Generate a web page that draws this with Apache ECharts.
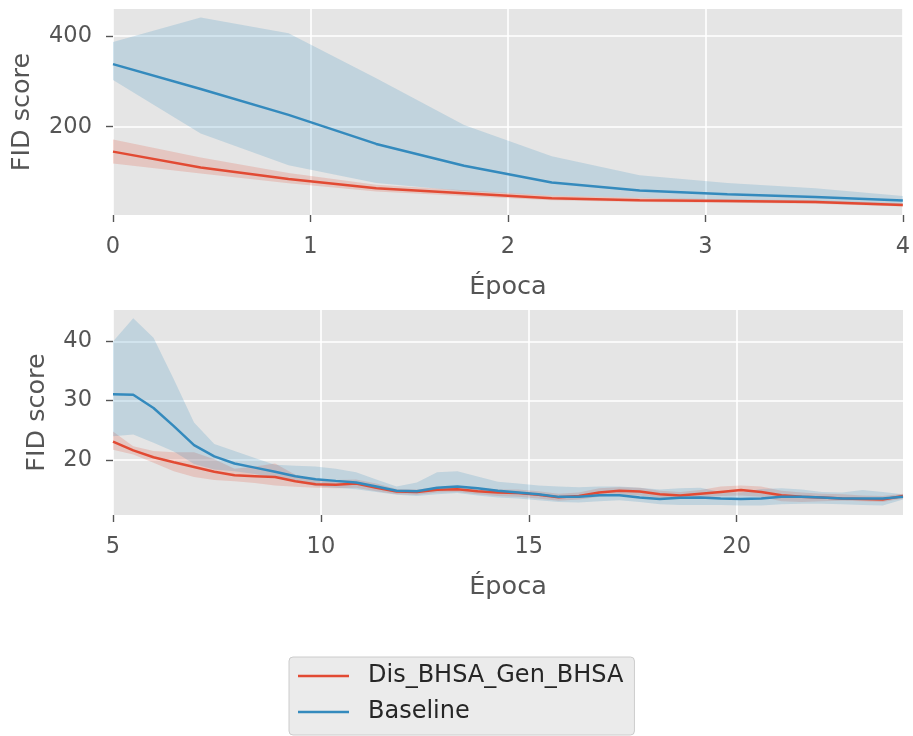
<!DOCTYPE html>
<html>
<head>
<meta charset="utf-8">
<script src="https://cdn.jsdelivr.net/npm/echarts@6/dist/echarts.min.js"></script>
<style>
  html, body { margin: 0; padding: 0; background: #ffffff; }
  #chart { width: 913px; height: 736px; }
</style>
</head>
<body>
<div id="chart"></div>
<script>
// Series names
const seriesNames = ['Dis_BHSA_Gen_BHSA', 'Baseline'];

// Upper panel: epochs 0..4
const topEpochs = [0, 0.444, 0.889, 1.333, 1.778, 2.222, 2.667, 3.111, 3.556, 4];
const redTopMean  = [145, 110, 84.5, 64, 53, 42, 38, 36, 34, 27];
const redTopUpper = [172, 132, 98, 72, 60, 48, 43, 40, 38, 31];
const redTopLower = [119, 97, 75, 57, 47, 38, 34, 32, 30, 24];
const blueTopMean  = [338, 283, 226, 162, 114, 77, 59, 51, 45, 37];
const blueTopUpper = [387, 441, 406, 307, 204, 135, 93, 76, 64, 47];
const blueTopLower = [303, 185, 115, 76, 58, 48, 43, 38, 34, 29];

// Lower panel: epochs 5..24
const bottomEpochs = [5.000, 5.487, 5.974, 6.462, 6.949, 7.436, 7.923, 8.410, 8.897, 9.385,
  9.872, 10.359, 10.846, 11.333, 11.821, 12.308, 12.795, 13.282, 13.769, 14.256,
  14.744, 15.231, 15.718, 16.205, 16.692, 17.179, 17.667, 18.154, 18.641, 19.128,
  19.615, 20.103, 20.590, 21.077, 21.564, 22.051, 22.538, 23.026, 23.513, 24.000];
const redBottomMean = [23.1, 21.6, 20.45, 19.6, 18.8, 18.0, 17.4, 17.25, 17.1, 16.4,
  15.9, 15.8, 16.0, 15.3, 14.66, 14.6, 14.95, 15.05, 14.7, 14.5,
  14.4, 14.1, 13.7, 13.9, 14.5, 14.8, 14.66, 14.2, 14.0, 14.3,
  14.6, 14.9, 14.6, 14.04, 13.8, 13.65, 13.5, 13.4, 13.3, 13.9];
const redBottomUpper = [24.8, 22.3, 21.5, 21.3, 21.3, 20.1, 18.5, 18.9, 19.4, 17.5,
  16.6, 16.6, 16.7, 16.0, 15.1, 15.0, 15.4, 15.6, 15.3, 15.0,
  15.0, 14.7, 14.3, 14.5, 15.2, 15.4, 15.3, 14.8, 14.6, 14.9,
  15.5, 15.7, 15.5, 14.8, 14.5, 14.3, 14.2, 14.0, 13.9, 14.3];
const redBottomLower = [21.7, 20.9, 19.5, 18.1, 17.1, 16.6, 16.4, 16.1, 15.7, 15.45,
  15.3, 15.2, 15.3, 14.7, 14.2, 14.1, 14.5, 14.6, 14.2, 13.9,
  13.8, 13.5, 13.1, 13.3, 13.8, 14.1, 14.0, 13.6, 13.4, 13.6,
  13.9, 14.0, 13.8, 13.0, 12.9, 13.0, 13.1, 13.0, 12.9, 13.5];
const blueBottomMean = [31.07, 31.0, 28.76, 25.7, 22.5, 20.6, 19.4, 18.7, 18.0, 17.25,
  16.74, 16.46, 16.2, 15.5, 14.78, 14.7, 15.3, 15.5, 15.2, 14.8,
  14.5, 14.2, 13.76, 13.76, 14.04, 14.04, 13.65, 13.4, 13.6, 13.65,
  13.5, 13.4, 13.5, 13.76, 13.76, 13.65, 13.5, 13.5, 13.5, 13.8];
const blueBottomUpper = [40.0, 43.9, 40.6, 33.6, 26.3, 22.7, 21.5, 20.3, 19.2, 19.0,
  18.9, 18.5, 17.9, 16.7, 15.5, 16.2, 17.9, 18.1, 17.2, 16.3,
  16.0, 15.7, 15.5, 15.4, 15.5, 15.5, 15.3, 15.0, 15.2, 15.3,
  14.6, 14.5, 15.1, 15.2, 15.0, 14.6, 14.5, 14.9, 14.6, 14.2];
const blueBottomLower = [24.0, 24.3, 22.9, 21.4, 19.3, 18.4, 18.1, 17.6, 17.0, 16.3,
  15.6, 15.3, 15.05, 14.6, 14.1, 13.9, 14.2, 14.4, 14.0, 13.65,
  13.5, 13.2, 12.9, 12.8, 13.0, 13.2, 12.9, 12.5, 12.4, 12.4,
  12.4, 12.3, 12.3, 12.5, 12.6, 12.6, 12.5, 12.4, 12.3, 13.3];

// Axis tick values
const topXTicks = [0, 1, 2, 3, 4];
const topYTicks = [200, 400];
const bottomXTicks = [5, 10, 15, 20];
const bottomYTicks = [20, 30, 40];

const RED = '#E24A33';
const BLUE = '#348ABD';
const TEXT = '#555555';
const FONT = 'DejaVu Sans';

function pairs(xs, ys) { return xs.map((x, i) => [x, ys[i]]); }

// Shaded band between lower and upper curves, drawn as one polygon
function band(name, xs, lower, upper, color, gi) {
  return {
    type: 'custom',
    name: name + ' band',
    xAxisIndex: gi, yAxisIndex: gi,
    clip: true,
    silent: true,
    z: 1,
    data: xs.map((x, i) => [x, lower[i], upper[i]]),
    encode: { x: 0, y: [1, 2] },
    renderItem: function (params, api) {
      if (params.dataIndex !== 0) return null;
      const pts = [];
      for (let i = 0; i < xs.length; i++) pts.push(api.coord([xs[i], upper[i]]));
      for (let i = xs.length - 1; i >= 0; i--) pts.push(api.coord([xs[i], lower[i]]));
      return {
        type: 'polygon',
        shape: { points: pts },
        style: { fill: color, opacity: 0.2 }
      };
    }
  };
}

function line(name, xs, ys, color, gi) {
  return {
    type: 'line',
    name: name,
    xAxisIndex: gi, yAxisIndex: gi,
    data: pairs(xs, ys),
    symbol: 'none',
    z: 5,
    lineStyle: { color: color, width: 2.5 },
    itemStyle: { color: color },
    animation: false
  };
}

function xAxis(gi, min, max, ticks) {
  return {
    type: 'value', gridIndex: gi, min: min, max: max,
    name: 'Época', nameLocation: 'middle', nameGap: 59,
    nameTextStyle: { color: TEXT, fontSize: 25.5, fontFamily: FONT },
    axisLine: { show: false },
    axisTick: { show: true, length: 7, customValues: ticks, lineStyle: { color: TEXT, width: 1.4 } },
    axisLabel: { customValues: ticks, color: TEXT, fontSize: 22.5, fontFamily: FONT, margin: 21 },
    splitLine: { show: true, lineStyle: { color: '#ffffff', width: 1.6 } }
  };
}

function yAxis(gi, min, max, ticks, gap) {
  return {
    type: 'value', gridIndex: gi, min: min, max: max,
    name: 'FID score', nameLocation: 'middle', nameGap: gap,
    nameTextStyle: { color: TEXT, fontSize: 25.5, fontFamily: FONT },
    axisLine: { show: false },
    axisTick: { show: true, length: 7, customValues: ticks, lineStyle: { color: TEXT, width: 1.4 } },
    axisLabel: { customValues: ticks, color: TEXT, fontSize: 22.5, fontFamily: FONT, margin: 21 },
    splitLine: { show: true, lineStyle: { color: '#ffffff', width: 1.6 } }
  };
}

const chart = echarts.init(document.getElementById('chart'), null, { renderer: 'canvas' });
chart.setOption({
  animation: false,
  backgroundColor: '#ffffff',
  grid: [
    { left: 113, right: 10, top: 9, height: 206, show: true, backgroundColor: '#E5E5E5', borderWidth: 0 },
    { left: 113, right: 10, top: 310, height: 205, show: true, backgroundColor: '#E5E5E5', borderWidth: 0 }
  ],
  xAxis: [xAxis(0, 0, 4, topXTicks), xAxis(1, 5, 24, bottomXTicks)],
  yAxis: [yAxis(0, 5.2, 459.6, topYTicks, 78), yAxis(1, 10.7, 45.3, bottomYTicks, 63)],
  legend: {
    data: seriesNames,
    orient: 'vertical',
    left: 289, top: 657,
    icon: 'rect',
    itemWidth: 51, itemHeight: 2.5,
    itemGap: 10,
    padding: [6, 11, 10, 9],
    backgroundColor: '#EBEBEB',
    borderColor: '#CCCCCC',
    borderWidth: 1,
    borderRadius: 4,
    textStyle: { color: '#262626', fontSize: 24, fontFamily: FONT, lineHeight: 26, padding: [0, 0, 0, 14] }
  },
  series: [
    band(seriesNames[0], topEpochs, redTopLower, redTopUpper, RED, 0),
    band(seriesNames[1], topEpochs, blueTopLower, blueTopUpper, BLUE, 0),
    line(seriesNames[0], topEpochs, redTopMean, RED, 0),
    line(seriesNames[1], topEpochs, blueTopMean, BLUE, 0),
    band(seriesNames[0], bottomEpochs, redBottomLower, redBottomUpper, RED, 1),
    band(seriesNames[1], bottomEpochs, blueBottomLower, blueBottomUpper, BLUE, 1),
    line(seriesNames[0], bottomEpochs, redBottomMean, RED, 1),
    line(seriesNames[1], bottomEpochs, blueBottomMean, BLUE, 1)
  ]
});
</script>
</body>
</html>
